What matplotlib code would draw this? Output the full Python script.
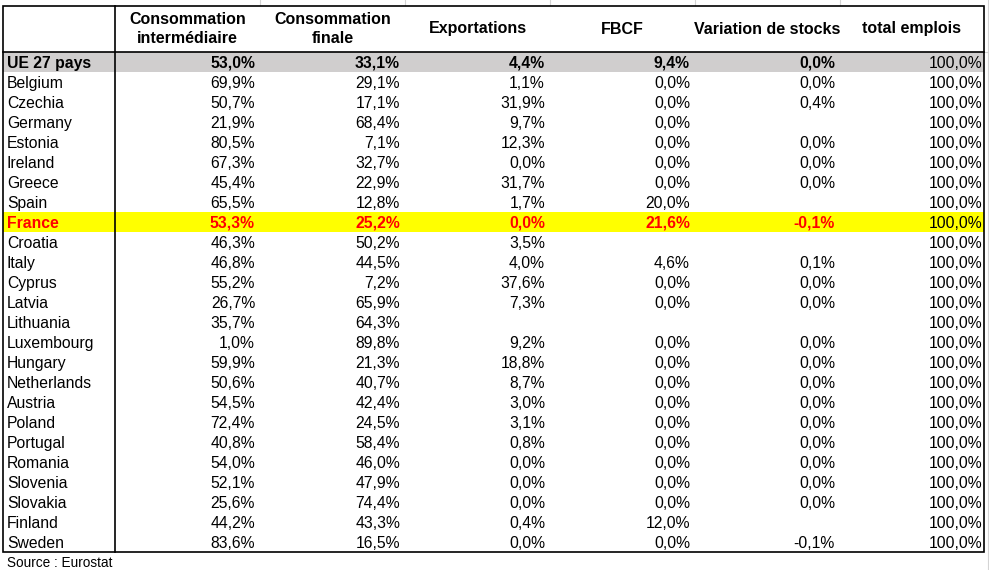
import matplotlib
matplotlib.use('Agg')
import matplotlib.pyplot as plt
import matplotlib.patches as patches

plt.rcParams['font.family'] = ['Liberation Sans', 'DejaVu Sans']

headers = ['Consommation\nintermédiaire', 'Consommation\nfinale', 'Exportations',
           'FBCF', 'Variation de stocks', 'total emplois']

countries = ['UE 27 pays', 'Belgium', 'Czechia', 'Germany', 'Estonia', 'Ireland', 'Greece',
             'Spain', 'France', 'Croatia', 'Italy', 'Cyprus', 'Latvia', 'Lithuania',
             'Luxembourg', 'Hungary', 'Netherlands', 'Austria', 'Poland', 'Portugal',
             'Romania', 'Slovenia', 'Slovakia', 'Finland', 'Sweden']

conso_inter = [53.0, 69.9, 50.7, 21.9, 80.5, 67.3, 45.4, 65.5, 53.3, 46.3, 46.8, 55.2, 26.7,
               35.7, 1.0, 59.9, 50.6, 54.5, 72.4, 40.8, 54.0, 52.1, 25.6, 44.2, 83.6]
conso_finale = [33.1, 29.1, 17.1, 68.4, 7.1, 32.7, 22.9, 12.8, 25.2, 50.2, 44.5, 7.2, 65.9,
                64.3, 89.8, 21.3, 40.7, 42.4, 24.5, 58.4, 46.0, 47.9, 74.4, 43.3, 16.5]
exportations = [4.4, 1.1, 31.9, 9.7, 12.3, 0.0, 31.7, 1.7, 0.0, 3.5, 4.0, 37.6, 7.3,
                None, 9.2, 18.8, 8.7, 3.0, 3.1, 0.8, 0.0, 0.0, 0.0, 0.4, 0.0]
fbcf = [9.4, 0.0, 0.0, 0.0, 0.0, 0.0, 0.0, 20.0, 21.6, None, 4.6, 0.0, 0.0,
        None, 0.0, 0.0, 0.0, 0.0, 0.0, 0.0, 0.0, 0.0, 0.0, 12.0, 0.0]
var_stocks = [0.0, 0.0, 0.4, None, 0.0, 0.0, 0.0, None, -0.1, None, 0.1, 0.0, 0.0,
              None, 0.0, 0.0, 0.0, 0.0, 0.0, 0.0, 0.0, 0.0, 0.0, None, -0.1]
total_emplois = [100.0] * 25

columns = [conso_inter, conso_finale, exportations, fbcf, var_stocks, total_emplois]


def fmt(v):
    if v is None:
        return ''
    return '{0:.1f}%'.format(v).replace('.', ',')


W, H = 989, 570
fig = plt.figure(figsize=(W / 100, H / 100), dpi=100)
ax = fig.add_axes([0, 0, 1, 1])
ax.set_xlim(0, W)
ax.set_ylim(H, 0)
ax.axis('off')

left, right = 3, 984
top, head_bottom = 6, 52
row_h = 20
col_edges = [115, 260, 405, 550, 695, 840, 984]
bottom = head_bottom + row_h * len(countries)

# excel gridlines outside the table (only the stubs above and to the right)
for x in col_edges[1:-1]:
    ax.plot([x, x], [0, top - 1], color='#d4d4d4', lw=0.8, zorder=1)
ax.plot([988, 988], [0, H], color='#d4d4d4', lw=0.8, zorder=1)
ax.plot([right, W], [head_bottom, head_bottom], color='#d4d4d4', lw=0.8, zorder=1)

# row highlights
for i, name in enumerate(countries):
    y0 = head_bottom + i * row_h
    if name == 'UE 27 pays':
        ax.add_patch(patches.Rectangle((left, y0), right - left, row_h, color='#d0cece',
                                       lw=0, zorder=2))
    elif name == 'France':
        ax.add_patch(patches.Rectangle((left, y0), right - left, row_h, color='#ffff00',
                                       lw=0, zorder=2))

# borders
ax.add_patch(patches.Rectangle((left, top), right - left, bottom - top, fill=False,
                               edgecolor='black', lw=1.2, zorder=3))
ax.plot([left, right], [head_bottom, head_bottom], color='black', lw=1.2, zorder=3)
ax.plot([col_edges[0], col_edges[0]], [top, bottom], color='black', lw=1.2, zorder=3)

# headers
for j, h in enumerate(headers):
    cx = (col_edges[j] + col_edges[j + 1]) / 2
    ax.text(cx, 29, h, ha='center', va='center', fontsize=11.5, fontweight='bold',
            linespacing=1.4, zorder=4)

# body
for i, name in enumerate(countries):
    base = head_bottom + i * row_h + 16
    weight = 'normal'
    color = 'black'
    if name == 'UE 27 pays':
        weight = 'bold'
    elif name == 'France':
        weight = 'bold'
        color = '#ff0000'
    ax.text(7, base, name, ha='left', va='baseline', fontsize=11.3, fontweight=weight,
            color=color, zorder=4)
    for j, col in enumerate(columns):
        if j < len(columns) - 1:
            xr = col_edges[j + 1] - 5
            w, c = weight, color
        else:
            # total column stays plain black
            xr = 982
            w, c = 'normal', 'black'
        ax.text(xr, base, fmt(col[i]), ha='right', va='baseline', fontsize=11.3,
                fontweight=w, color=c, zorder=4)

ax.text(7, 567, 'Source : Eurostat', ha='left', va='baseline', fontsize=9.8)

fig.savefig('out.png', dpi=100)
